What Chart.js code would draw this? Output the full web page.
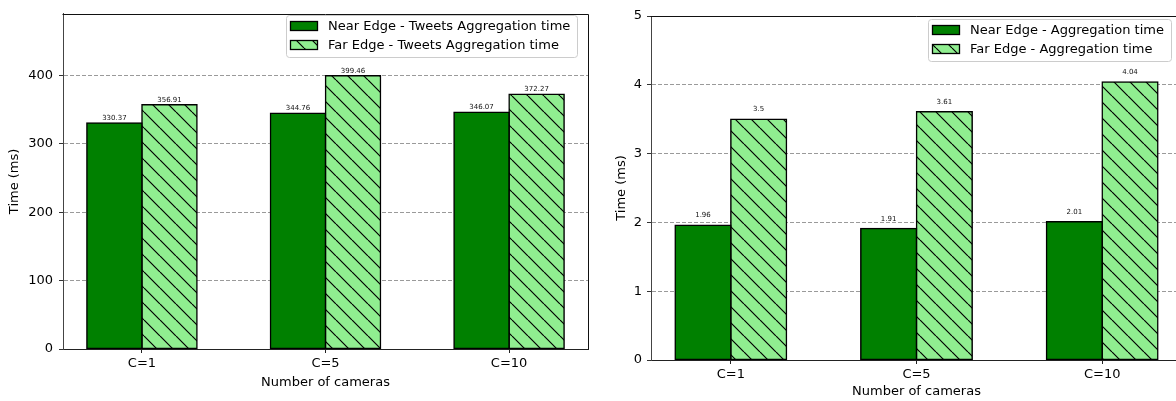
<!DOCTYPE html>
<html>
<head>
<meta charset="utf-8">
<script src="https://cdn.jsdelivr.net/npm/chart.js@4"></script>
<style>
html, body { margin: 0; padding: 0; background: #fff; overflow: hidden; width: 1176px; height: 401px; }
.box { position: absolute; top: 0; height: 401px; }
#left { left: 0; width: 596px; }
#right { left: 600px; width: 590px; }
</style>
</head>
<body>
<div class="box" id="left"><canvas id="tweetsChart"></canvas></div>
<div class="box" id="right"><canvas id="aggChart"></canvas></div>
<script>
const cameras = ['C=1', 'C=5', 'C=10'];
const tweetsNear = [330.37, 344.76, 346.07];
const tweetsFar = [356.91, 399.46, 372.27];
const aggNear = [1.96, 1.91, 2.01];
const aggFar = [3.5, 3.61, 4.04];
const tweetsTicks = [0, 100, 200, 300, 400];
const aggTicks = [0, 1, 2, 3, 4, 5];

const FONT = '"DejaVu Sans", sans-serif';
const nearColor = '#008000';
const farColor = '#90ee90';

// "\\" hatch like matplotlib
function hatchFill(bg) {
    const c = document.createElement('canvas');
    c.width = 16;
    c.height = 16;
    const g = c.getContext('2d');
    g.fillStyle = bg;
    g.fillRect(0, 0, 16, 16);
    g.strokeStyle = '#000';
    g.lineWidth = 1.2;
    g.beginPath();
    [-16, 0, 16].forEach(k => {
        g.moveTo(k, 0);
        g.lineTo(k + 16, 16);
    });
    g.stroke();
    return g.createPattern(c, 'repeat');
}

const valueLabels = {
    id: 'valueLabels',
    afterDatasetsDraw(chart, args, opts) {
        const ctx = chart.ctx;
        ctx.save();
        ctx.font = '7px ' + FONT;
        ctx.fillStyle = '#111';
        ctx.textAlign = 'center';
        ctx.textBaseline = 'alphabetic';
        chart.data.datasets.forEach((ds, i) => {
            chart.getDatasetMeta(i).data.forEach((bar, j) => {
                ctx.fillText(String(ds.data[j].y), bar.x, bar.y - opts.gap);
            });
        });
        ctx.restore();
    }
};

const frame = {
    id: 'frame',
    afterDraw(chart) {
        const { ctx, chartArea } = chart;
        ctx.save();
        ctx.strokeStyle = '#111';
        ctx.lineWidth = 1;
        ctx.beginPath();
        ctx.moveTo(Math.round(chartArea.left) - 0.5, Math.round(chartArea.top) + 0.5);
        ctx.lineTo(Math.round(chartArea.right) + 0.5, Math.round(chartArea.top) + 0.5);
        ctx.lineTo(Math.round(chartArea.right) + 0.5, Math.round(chartArea.bottom));
        ctx.stroke();
        ctx.restore();
    }
};

const boxLegend = {
    id: 'boxLegend',
    afterDraw(chart, args, opts) {
        const { ctx, chartArea } = chart;
        const items = chart.data.datasets;
        ctx.save();
        ctx.font = '13px ' + FONT;
        const textW = Math.max(...items.map(d => ctx.measureText(d.label).width));
        const w = Math.round(4 + 28 + 10 + textW + 7);
        const h = 42;
        const x = Math.round(chartArea.right - opts.right - w);
        const y = Math.round(chartArea.top + opts.top);
        ctx.beginPath();
        ctx.roundRect(x + 0.5, y + 0.5, w, h, 3);
        ctx.fillStyle = 'rgba(255,255,255,0.8)';
        ctx.fill();
        ctx.strokeStyle = '#cccccc';
        ctx.lineWidth = 1;
        ctx.stroke();
        items.forEach((d, i) => {
            const cy = y + 11 + i * 19;
            ctx.fillStyle = d.backgroundColor;
            ctx.fillRect(x + 4, cy - 5, 28, 10);
            ctx.strokeStyle = '#000';
            ctx.lineWidth = 1.3;
            ctx.strokeRect(x + 4.5, cy - 4.5, 27, 9);
            ctx.fillStyle = '#000';
            ctx.textBaseline = 'middle';
            ctx.fillText(d.label, x + 42, cy + 1);
        });
        ctx.restore();
    }
};

function makeChart(id, cfg) {
    const tickFont = { family: FONT, size: 13 };
    return new Chart(document.getElementById(id), {
        type: 'bar',
        data: {
            datasets: [
                {
                    label: cfg.nearLabel,
                    data: cfg.near.map((v, i) => ({ x: i, y: v })),
                    backgroundColor: nearColor,
                    borderColor: '#000',
                    borderWidth: 1.5,
                    borderSkipped: false,
                    inflateAmount: 0.75
                },
                {
                    label: cfg.farLabel,
                    data: cfg.far.map((v, i) => ({ x: i, y: v })),
                    backgroundColor: hatchFill(farColor),
                    borderColor: '#000',
                    borderWidth: 1.5,
                    borderSkipped: false,
                    inflateAmount: 0.75
                }
            ]
        },
        options: {
            responsive: true,
            maintainAspectRatio: false,
            animation: false,
            categoryPercentage: 0.6,
            barPercentage: 1,
            layout: { padding: { left: 0, top: cfg.top, right: 8, bottom: 0 } },
            plugins: {
                legend: { display: false },
                tooltip: { enabled: false },
                valueLabels: { gap: cfg.labelGap },
                boxLegend: { right: 11, top: cfg.legendTop }
            },
            scales: {
                x: {
                    type: 'linear',
                    min: -0.43,
                    max: 2.43,
                    offset: false,
                    afterBuildTicks: s => { s.ticks = cameras.map((c, i) => ({ value: i })); },
                    afterFit: s => { s.height = cfg.xHeight; },
                    ticks: {
                        callback: v => cameras[v],
                        font: tickFont,
                        color: '#000',
                        padding: 3,
                        autoSkip: false,
                        maxRotation: 0
                    },
                    grid: { offset: false, drawOnChartArea: false, tickLength: 4, tickColor: '#222' },
                    border: { color: '#222' },
                    title: {
                        display: true,
                        text: 'Number of cameras',
                        font: tickFont,
                        color: '#000',
                        padding: { top: 0, bottom: cfg.xTitlePad }
                    }
                },
                y: {
                    min: 0,
                    max: cfg.yMax,
                    afterBuildTicks: s => { s.ticks = cfg.yTicks.map(v => ({ value: v })); },
                    afterFit: s => { s.width = cfg.yWidth; },
                    ticks: { font: tickFont, color: '#000', padding: cfg.yTickPad },
                    grid: {
                        color: c => (c.tick && c.tick.value === 0) ? 'rgba(0,0,0,0)' : '#9a9a9a',
                        lineWidth: 1,
                        tickLength: 4,
                        tickColor: '#333',
                        tickBorderDash: []
                    },
                    border: { color: '#444', dash: [4, 2] },
                    title: {
                        display: true,
                        text: 'Time (ms)',
                        font: tickFont,
                        color: '#000',
                        padding: { top: cfg.yTitlePad, bottom: 0 }
                    }
                }
            }
        },
        plugins: [valueLabels, frame, boxLegend]
    });
}

makeChart('tweetsChart', {
    nearLabel: 'Near Edge - Tweets Aggregation time',
    farLabel: 'Far Edge - Tweets Aggregation time',
    near: tweetsNear,
    far: tweetsFar,
    yMax: 490,
    yTicks: tweetsTicks,
    top: 12,
    xHeight: 52,
    xTitlePad: 11,
    yWidth: 63,
    yTickPad: 6,
    yTitlePad: 7,
    labelGap: 3,
    legendTop: 1
});

makeChart('aggChart', {
    nearLabel: 'Near Edge - Aggregation time',
    farLabel: 'Far Edge - Aggregation time',
    near: aggNear,
    far: aggFar,
    yMax: 5,
    yTicks: aggTicks,
    top: 16,
    xHeight: 41,
    xTitlePad: 2,
    yWidth: 51,
    yTickPad: 5,
    yTitlePad: 14,
    labelGap: 8,
    legendTop: 3
});
</script>
</body>
</html>
